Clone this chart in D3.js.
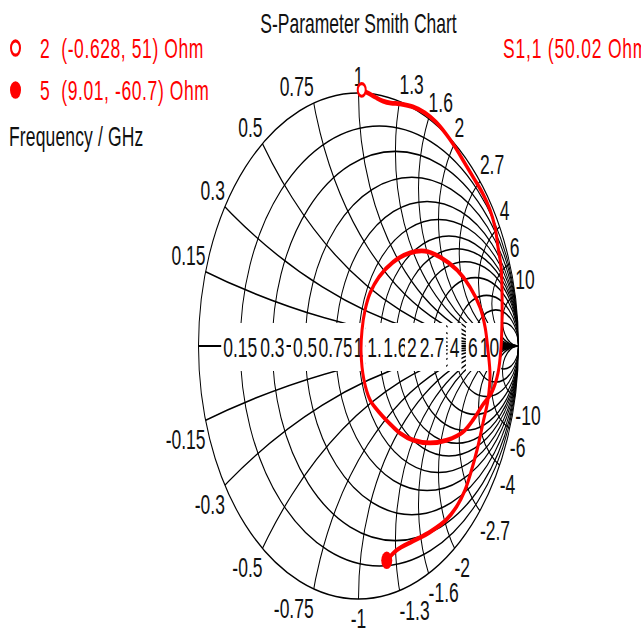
<!DOCTYPE html>
<html><head><meta charset="utf-8">
<script src="https://cdn.jsdelivr.net/npm/d3@7"></script>
<style>
html,body{margin:0;padding:0;background:#fff;}
svg{display:block;}
text{font-family:"Liberation Sans",Arial,sans-serif;}
</style></head><body>
<svg id="chart" width="641" height="630"></svg>
<script>
// Smith chart grid values (normalised)
const resistanceCircles = [0.15, 0.3, 0.5, 0.75, 1, 1.3, 1.6, 2, 2.7, 4, 6, 10];
const reactanceArcs = [0.15, 0.3, 0.5, 0.75, 1, 1.3, 1.6, 2, 2.7, 4, 6, 10];
const resistanceLabels = ["0.15", "0.3", "0.5", "0.75", "1", "1.3", "1.6", "2", "2.7", "4", "6", "10"];
const reactanceLabels = ["0.15", "0.3", "0.5", "0.75", "1", "1.3", "1.6", "2", "2.7", "4", "6", "10"];

// S1,1 reflection coefficient over the sweep (real / imaginary)
const s11Re = [0.020, 0.059, 0.103, 0.153, 0.203, 0.259, 0.341, 0.416, 0.484, 0.547,
  0.603, 0.653, 0.716, 0.778, 0.822, 0.853, 0.872, 0.891, 0.897, 0.897,
  0.891, 0.872, 0.834, 0.772, 0.716, 0.653, 0.553, 0.447, 0.341, 0.259,
  0.191, 0.128, 0.072, 0.034, 0.016, 0.022, 0.041, 0.072, 0.128, 0.216,
  0.322, 0.416, 0.509, 0.616, 0.697, 0.759, 0.791, 0.809, 0.822, 0.809,
  0.778, 0.741, 0.703, 0.666, 0.616, 0.547, 0.447, 0.341, 0.241, 0.177];
const s11Im = [1.012, 1.000, 0.984, 0.968, 0.960, 0.957, 0.945, 0.921, 0.885, 0.838,
  0.787, 0.735, 0.668, 0.601, 0.538, 0.470, 0.391, 0.312, 0.209, 0.103,
  -0.004, -0.107, -0.182, -0.237, -0.292, -0.340, -0.372, -0.383, -0.372, -0.344,
  -0.304, -0.261, -0.213, -0.134, -0.024, 0.063, 0.142, 0.209, 0.273, 0.332,
  0.368, 0.375, 0.352, 0.300, 0.233, 0.154, 0.075, -0.016, -0.115, -0.213,
  -0.304, -0.411, -0.498, -0.569, -0.632, -0.688, -0.735, -0.771, -0.806, -0.847];

// Frequency markers (GHz) with their impedance in Ohm
const markerFreqs = ["2", "5"];
const markerRes = [-0.628, 9.01];
const markerReact = [51, -60.7];
const markerHollow = [true, false];
const refImpedance = 50;

const stretch = 253 / 160;          // vertical stretch of the whole drawing
const cx = 358.5, R = 160;
const cy = 346 / stretch;
const xs = d3.scaleLinear().domain([-1, 1]).range([cx - R, cx + R]);
const ys = d3.scaleLinear().domain([-1, 1]).range([cy + R, cy - R]);
const sy = v => v / stretch;        // page y -> drawing y
const FS = 17.5;
const RED = "#ff0000", INK = "#111";

const svg = d3.select("#chart");
const g = svg.append("g").attr("transform", `scale(1,${stretch})`);

g.append("defs").append("clipPath").attr("id", "unit")
  .append("circle").attr("cx", xs(0)).attr("cy", ys(0)).attr("r", xs(1) - xs(0));

const grid = g.append("g").attr("clip-path", "url(#unit)")
  .attr("fill", "none").attr("stroke", "#000").attr("stroke-width", 1);

// constant-resistance circles
grid.selectAll("circle.res").data(resistanceCircles).join("circle")
  .attr("class", "res")
  .attr("cx", r => xs(r / (1 + r))).attr("cy", ys(0))
  .attr("r", r => xs(1 / (1 + r)) - xs(0));

// constant-reactance arcs (upper and lower)
const arcs = reactanceArcs.flatMap(x => [x, -x]);
grid.selectAll("circle.react").data(arcs).join("circle")
  .attr("class", "react")
  .attr("cx", xs(1)).attr("cy", x => ys(1 / x))
  .attr("r", x => xs(Math.abs(1 / x)) - xs(0));

// outer boundary and real axis
g.append("circle").attr("cx", xs(0)).attr("cy", ys(0)).attr("r", xs(1) - xs(0))
  .attr("fill", "none").attr("stroke", "#000").attr("stroke-width", 1);
g.append("line").attr("x1", xs(-1)).attr("x2", xs(1)).attr("y1", ys(0)).attr("y2", ys(0))
  .attr("stroke", "#000").attr("stroke-width", 1.2);

// resistance labels on the real axis, each on a white box
const axisLabels = g.append("g");
resistanceCircles.forEach((r, i) => {
  const gx = (r - 1) / (r + 1);
  const lg = axisLabels.append("g");
  const rect = lg.append("rect").attr("fill", "#fff");
  const t = lg.append("text").attr("x", xs(gx)).attr("y", sy(357))
    .attr("text-anchor", "middle").attr("font-size", FS).attr("fill", INK)
    .text(resistanceLabels[i]);
  const bb = t.node().getBBox();
  rect.attr("x", bb.x - 2).attr("width", bb.width + 4)
    .attr("y", sy(323)).attr("height", sy(48));
});

// reactance labels round the rim
const rimLabels = g.append("g").attr("font-size", FS).attr("fill", INK);
reactanceArcs.forEach((x, i) => {
  [1, -1].forEach(sign => {
    const th = sign * (Math.PI - 2 * Math.atan(x));
    const gx = Math.cos(th), gy = Math.sin(th);
    const anchor = Math.abs(gx) < 1e-6 ? "middle" : (gx < 0 ? "end" : "start");
    rimLabels.append("text")
      .attr("x", xs(gx))
      .attr("y", ys(gy) + (sign > 0 ? -sy(7) : sy(29)))
      .attr("text-anchor", anchor)
      .text((sign < 0 ? "-" : "") + reactanceLabels[i]);
  });
});

// S1,1 trace
const line = d3.line()
  .x(i => xs(s11Re[i])).y(i => ys(s11Im[i]))
  .curve(d3.curveCatmullRom.alpha(0.5));
g.append("path").attr("d", line(d3.range(s11Re.length)))
  .attr("fill", "none").attr("stroke", RED).attr("stroke-width", 3)
  .attr("stroke-linejoin", "round").attr("stroke-linecap", "round");

// markers from their impedance
function gamma(rOhm, xOhm) {
  const zr = rOhm / refImpedance, zi = xOhm / refImpedance;
  const nr = zr - 1, ni = zi, dr = zr + 1, di = zi;
  const d = dr * dr + di * di;
  return [(nr * dr + ni * di) / d, (ni * dr - nr * di) / d];
}
markerFreqs.forEach((f, i) => {
  const [gr, gi] = gamma(markerRes[i], markerReact[i]);
  g.append("circle").attr("cx", xs(gr)).attr("cy", ys(gi))
    .attr("r", markerHollow[i] ? 4 : 5.5)
    .attr("fill", markerHollow[i] ? "#fff" : RED)
    .attr("stroke", RED).attr("stroke-width", markerHollow[i] ? 2 : 0);
});

// title and legend
g.append("text").attr("x", cx).attr("y", sy(33)).attr("text-anchor", "middle")
  .attr("font-size", FS).attr("fill", INK).text("S-Parameter Smith Chart");

const legendY = [58, 100];
markerFreqs.forEach((f, i) => {
  g.append("circle").attr("cx", 15.5).attr("cy", sy(legendY[i] - 10))
    .attr("r", markerHollow[i] ? 4.5 : 5.5)
    .attr("fill", markerHollow[i] ? "#fff" : RED)
    .attr("stroke", RED).attr("stroke-width", markerHollow[i] ? 2 : 0);
  g.append("text").attr("x", 40).attr("y", sy(legendY[i]))
    .attr("font-size", FS).attr("fill", RED).attr("letter-spacing", 0.6)
    .style("white-space", "pre")
    .text(`${f}  (${markerRes[i]}, ${markerReact[i]}) Ohm`);
});
g.append("text").attr("x", 9).attr("y", sy(146))
  .attr("font-size", FS).attr("fill", INK).attr("letter-spacing", 0.15)
  .text("Frequency / GHz");
g.append("text").attr("x", 503).attr("y", sy(58))
  .attr("font-size", FS).attr("fill", RED).attr("letter-spacing", 0.8)
  .text(`S1,1 (${(50.02).toFixed(2)} Ohm)`);
</script>
</body></html>
